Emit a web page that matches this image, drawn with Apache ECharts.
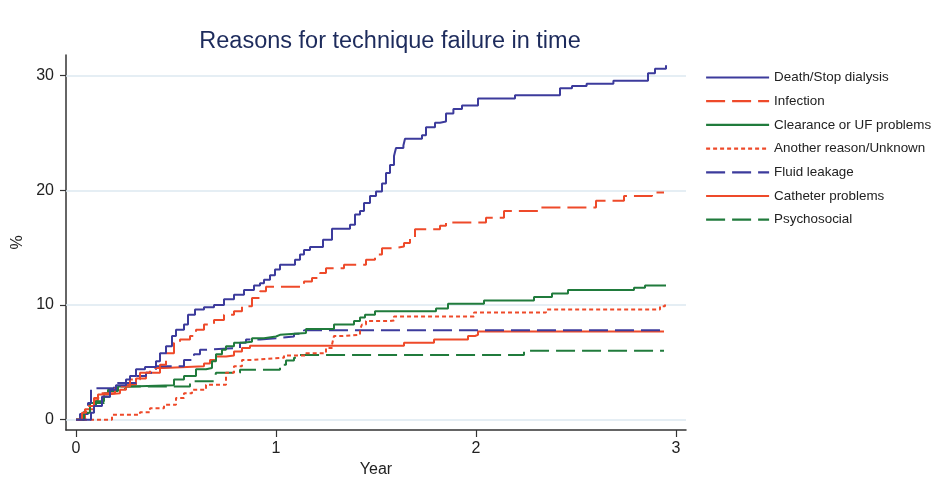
<!DOCTYPE html>
<html>
<head>
<meta charset="utf-8">
<script src="https://cdn.jsdelivr.net/npm/echarts@6/dist/echarts.min.js"></script>
<style>html,body{margin:0;padding:0;background:#fff;}#c{width:932px;height:493px;}</style>
</head>
<body>
<div id="c"></div>
<script>
const seriesNames = ["Death/Stop dialysis","Infection","Clearance or UF problems","Another reason/Unknown","Fluid leakage","Catheter problems","Psychosocial"];
const xTicks = [0,1,2,3];
const yTicks = [0,10,20,30];

const deathStop = [[0,0],[0.075,0.6],[0.09,1.2],[0.13,2.0],[0.17,2.6],[0.2,3.0],[0.25,3.5],[0.27,3.8],[0.30,4.4],[0.345,4.6],[0.40,5.1],[0.42,5.8],[0.45,6.4],[0.48,7.3],[0.50,7.85],[0.54,8.3],[0.56,9.15],[0.595,9.6],[0.64,9.8],[0.69,10.0],[0.74,10.5],[0.79,10.9],[0.84,11.3],[0.89,11.7],[0.92,11.9],[0.94,12.2],[0.97,12.6],[0.995,13.1],[1.02,13.5],[1.095,13.95],[1.12,14.4],[1.14,14.8],[1.17,15.05],[1.235,15.7],[1.28,16.65],[1.37,17.0],[1.395,17.9],[1.42,18.2],[1.44,18.9],[1.47,19.5],[1.50,19.9],[1.53,20.6],[1.55,21.5],[1.57,22.2],[1.59,23.0],[1.60,23.7],[1.637,23.9],[1.645,24.5],[1.73,24.8],[1.75,25.5],[1.795,25.9],[1.82,26.0],[1.85,26.7],[1.887,27.1],[1.93,27.4],[2.01,28.0],[2.195,28.3],[2.42,28.9],[2.48,29.1],[2.553,29.3],[2.687,29.55],[2.86,30.2],[2.895,30.6],[2.95,30.9]];
const infection = [[0,0],[0.03,0.6],[0.05,1.2],[0.09,1.9],[0.12,2.3],[0.195,2.9],[0.27,3.5],[0.32,4.1],[0.37,4.5],[0.42,4.8],[0.45,5.8],[0.49,6.7],[0.52,7.0],[0.57,7.3],[0.60,7.85],[0.64,8.3],[0.69,8.7],[0.74,9.15],[0.79,9.45],[0.83,9.9],[0.88,10.6],[0.92,11.2],[0.95,11.6],[1.14,12.05],[1.18,12.35],[1.22,12.8],[1.25,13.2],[1.34,13.5],[1.45,13.95],[1.495,14.4],[1.53,14.95],[1.59,15.1],[1.64,15.4],[1.67,15.85],[1.695,16.6],[1.82,16.9],[1.85,17.2],[2.05,17.6],[2.14,18.2],[2.32,18.5],[2.60,19.1],[2.74,19.5],[2.88,19.8],[2.94,19.8]];
const clearance = [[0,0],[0.04,0.6],[0.07,1.2],[0.10,1.6],[0.14,2.0],[0.17,2.5],[0.21,2.9],[0.27,3.0],[0.49,3.5],[0.54,3.8],[0.60,4.4],[0.65,4.5],[0.68,5.1],[0.70,5.7],[0.73,6.1],[0.75,6.4],[0.79,6.7],[0.83,6.8],[0.88,7.1],[0.94,7.25],[1.0,7.4],[1.02,7.55],[1.15,7.9],[1.29,8.3],[1.39,8.6],[1.42,8.9],[1.445,9.15],[1.495,9.45],[1.80,9.7],[1.86,10.1],[2.04,10.4],[2.29,10.7],[2.38,11.0],[2.46,11.3],[2.79,11.5],[2.845,11.7],[2.95,11.7]];
const anotherReason = [[0,0],[0.18,0.44],[0.32,0.64],[0.37,1.0],[0.44,1.3],[0.50,1.9],[0.54,2.3],[0.58,2.6],[0.65,3.05],[0.75,4.1],[0.79,4.65],[0.83,5.2],[0.88,5.3],[0.945,5.4],[1.04,5.6],[1.15,5.8],[1.25,6.25],[1.28,6.55],[1.29,7.3],[1.33,7.4],[1.42,7.85],[1.43,8.3],[1.45,8.6],[1.57,8.65],[1.59,9.0],[1.99,9.35],[2.35,9.6],[2.92,9.9],[2.945,10.25]];
const fluidLeakage = [[0,0],[0.02,0.5],[0.06,1.45],[0.075,2.75],[0.19,3.2],[0.30,3.8],[0.35,4.1],[0.40,4.65],[0.54,5.2],[0.59,5.7],[0.62,6.1],[0.65,6.25],[0.82,6.7],[0.85,7.0],[0.92,7.1],[1.0,7.25],[1.09,7.5],[1.14,7.8],[2.94,7.8]];
const catheter = [[0,0],[0.045,0.9],[0.09,1.7],[0.11,2.2],[0.15,2.3],[0.22,2.6],[0.25,3.05],[0.30,3.6],[0.35,4.1],[0.42,4.5],[0.44,4.65],[0.64,4.9],[0.67,5.2],[0.70,5.5],[0.75,5.6],[0.79,5.95],[0.83,6.25],[0.87,6.45],[1.64,6.7],[1.79,7.0],[1.96,7.3],[1.995,7.4],[2.01,7.7],[2.94,7.7]];
const psychosocial = [[0,0],[0.04,0.7],[0.07,1.45],[0.14,2.3],[0.16,2.6],[0.2,2.7],[0.25,2.9],[0.57,3.35],[0.69,3.5],[0.70,4.1],[0.82,4.35],[1.02,4.8],[1.05,5.15],[1.09,5.4],[1.12,5.65],[2.24,6.0],[2.94,6.0]];

const NAVY = '#3c3b9c', RED = '#ee4a2a', GREEN = '#207b3c';
const DASH = [19, 7], DOT = [4, 3];
const styles = [
  {color: NAVY, type: 'solid'},
  {color: RED, type: DASH},
  {color: GREEN, type: 'solid'},
  {color: RED, type: DOT},
  {color: NAVY, type: DASH},
  {color: RED, type: 'solid'},
  {color: GREEN, type: DASH}
];
const datasets = [deathStop, infection, clearance, anotherReason, fluidLeakage, catheter, psychosocial];
const FONT = '"Liberation Sans", Arial, sans-serif';

const series = [{
  type: 'line', name: '_grid', data: [], z: 1, silent: true,
  markLine: {
    silent: true, symbol: ['none','none'], animation: false,
    label: {show: false},
    lineStyle: {color: '#dde9f0', width: 1.5, type: 'solid'},
    data: yTicks.map(v => ({yAxis: v}))
  }
}];
datasets.forEach((d, i) => {
  series.push({
    type: 'line', name: seriesNames[i], data: d, step: 'end',
    symbol: 'none', showSymbol: false, z: 3 + (datasets.length - i),
    color: styles[i].color,
    lineStyle: {color: styles[i].color, type: styles[i].type, width: 2}
  });
});

const chart = echarts.init(document.getElementById('c'), null, {renderer: 'canvas'});
chart.setOption({
  animation: false,
  backgroundColor: '#fff',
  textStyle: {fontFamily: FONT},
  title: {
    text: 'Reasons for technique failure in time',
    left: 385, top: 25, textAlign: 'center',
    textStyle: {fontFamily: FONT, fontSize: 23.5, fontWeight: 'normal', color: '#1d2b5c'}
  },
  legend: {
    data: seriesNames, orient: 'vertical', left: 700, top: 66,
    itemWidth: 63, itemHeight: 14, itemGap: 10.7,
    itemStyle: {opacity: 0},
    lineStyle: {width: 2.2},
    textStyle: {fontFamily: FONT, fontSize: 13.4, color: '#222'}
  },
  grid: {left: 66, right: 246, top: 55, bottom: 63},
  xAxis: {
    type: 'value', min: -0.05, max: 3.05,
    name: 'Year', nameLocation: 'middle', nameGap: 29,
    nameTextStyle: {fontFamily: FONT, fontSize: 16, color: '#222'},
    axisLine: {show: true, onZero: false, lineStyle: {color: '#333', width: 1.5}},
    axisTick: {show: true, length: 7, customValues: xTicks, lineStyle: {color: '#333', width: 1.2}},
    axisLabel: {customValues: xTicks, margin: 11, fontFamily: FONT, fontSize: 16, color: '#222'},
    splitLine: {show: false}
  },
  yAxis: {
    type: 'value', min: -0.9, max: 31.8,
    name: '%', nameLocation: 'middle', nameGap: 37, nameRotate: 90,
    nameTextStyle: {fontFamily: FONT, fontSize: 16, color: '#222'},
    axisLine: {show: true, onZero: false, lineStyle: {color: '#333', width: 1.5}},
    axisTick: {show: true, length: 6, customValues: yTicks, lineStyle: {color: '#333', width: 1.2}},
    axisLabel: {customValues: yTicks, margin: 12, fontFamily: FONT, fontSize: 16, color: '#222'},
    splitLine: {show: false}
  },
  series: series
});
</script>
</body>
</html>
